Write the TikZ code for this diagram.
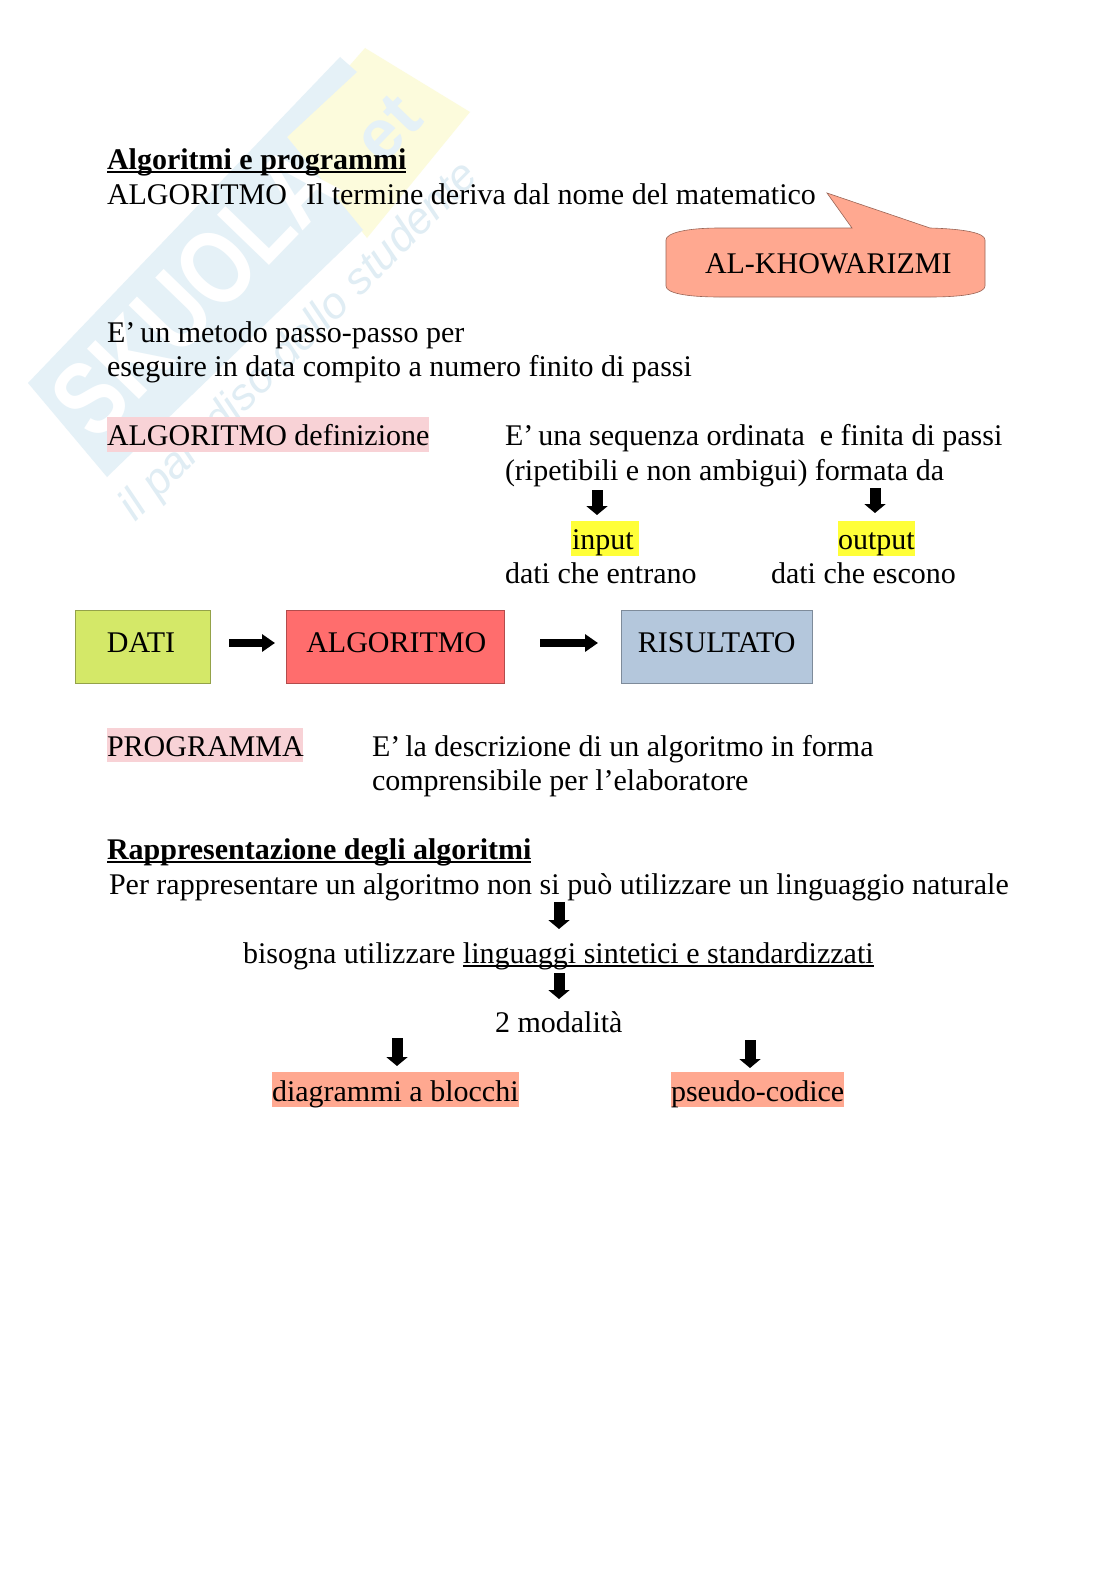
\documentclass[tikz,border=0pt]{standalone}
\usepackage{fontspec}
\setmainfont{Liberation Serif}
\newfontfamily\wmfont{Liberation Sans}
\usetikzlibrary{arrows.meta}
\definecolor{wmblue}{HTML}{E5F1F7}
\definecolor{wmyellow}{HTML}{FCFBDC}
\definecolor{wmtext}{HTML}{E0EDF4}
\definecolor{pinkhl}{HTML}{F8D2D6}
\definecolor{yellowhl}{HTML}{FFFF38}
\definecolor{salmon}{HTML}{FFA890}
\definecolor{datifill}{HTML}{D4E868}
\definecolor{algofill}{HTML}{FF6D6D}
\definecolor{risfill}{HTML}{B4C7DC}
\newcommand{\ulin}[2][2]{\sbox0{#2}\rlap{\rule[-4pt]{\wd0}{#1pt}}\usebox0}
\newcommand{\Eap}{E’\kern-2.5pt\ }
\tikzset{
  txt/.style={anchor=base west,inner sep=0pt,outer sep=0pt,font=\fontsize{30}{34.5}\selectfont},
  flowbox/.style={draw=#1!70!black,line width=0.7pt,inner sep=0pt,text depth=10pt,text height=20pt,
    font=\fontsize{30}{34.5}\selectfont},
  blockarrow/.style={line width=8pt,-{Triangle[length=13pt,width=17pt]},black},
  downarrow/.style={line width=11pt,-{Triangle[length=9pt,width=21pt]},black},
}
\begin{document}
\begin{tikzpicture}[x=1pt,y=-1pt]
\useasboundingbox (0,0) rectangle (1116,1579);
\fill[white] (0,0) rectangle (1116,1579);
% watermark
\fill[wmyellow] (365,48) -- (470,112) -- (367,238) -- (287,137) -- cycle;
\fill[wmblue] (28,383) -- (340,57) -- (357,72) -- (287,137) -- (363,230) -- (107,477) -- cycle;
\node[rotate=46,inner sep=0pt,text=white,font=\wmfont\bfseries\fontsize{84}{84}\selectfont] (wmname) at (194,291) {\scalebox{1}[1.25]{SKUOLA}};
\node[rotate=46,inner sep=0pt,text=wmblue,font=\wmfont\bfseries\fontsize{70}{70}\selectfont] (wmnet) at (388,128) {et};
\node[rotate=45,inner sep=0pt,text=wmtext,font=\wmfont\itshape\fontsize{44}{44}\selectfont] (wmslogan) at (300,342) {il paradiso dello studente};
% callout
\draw[fill=salmon,draw=salmon!60!black,line width=0.6pt] (827,193) -- (930,228)
  .. controls (965,229) and (985,233) .. (985,240) -- (985,286)
  .. controls (985,293) and (965,297) .. (930,297) -- (720,297)
  .. controls (686,297) and (666,293) .. (666,286) -- (666,240)
  .. controls (666,233) and (686,228) .. (720,228) -- (852,228) -- cycle;
\node[txt] (kho) at (705,273) {AL-KHOWARIZMI};
% highlights
\fill[pinkhl] (107,417) rectangle (429,452);
\fill[pinkhl] (107,728) rectangle (303,762);
\fill[yellowhl] (571,521) rectangle (639,556);
\fill[yellowhl] (838,521) rectangle (915,556);
\fill[salmon] (272,1072) rectangle (519,1107);
\fill[salmon] (671,1072) rectangle (844,1107);
% text
\node[txt] (title) at (107,169) {\bfseries\ulin[2.2]{Algoritmi e programmi}};
\node[txt] (alg) at (107,204) {ALGORITMO};
\node[txt] (term) at (306,204) {Il termine deriva dal nome del matematico};
\node[txt] (met1) at (107,342) {\Eap un metodo passo-passo per};
\node[txt] (met2) at (107,376) {eseguire in data compito a numero finito di passi};
\node[txt] (def) at (107,445) {ALGORITMO definizione};
\node[txt] (seq1) at (505,445) {\Eap una sequenza ordinata\ \ e finita di passi};
\node[txt] (seq2) at (505,480) {(ripetibili e non ambigui) formata da};
\node[txt] (input) at (572,549) {input};
\node[txt] (output) at (838,549) {output};
\node[txt] (entr) at (505,583.5) {dati che entrano};
\node[txt] (esc) at (771,583.5) {dati che escono};
\node[flowbox=datifill,fill=datifill,minimum width=134.5pt,minimum height=73pt] (dati) at (143,647) {DATI\kern4pt};
\node[flowbox=algofill,fill=algofill,minimum width=218.5pt,minimum height=73pt] (algo) at (395.25,647) {\kern2pt ALGORITMO};
\node[flowbox=risfill,fill=risfill,minimum width=191.5pt,minimum height=73pt] (ris) at (716.75,647) {RISULTATO};
\coordinate (a1s) at (229,643); \coordinate (a1e) at (275,643);
\coordinate (a2s) at (540,643); \coordinate (a2e) at (598,643);
\draw[blockarrow] (a1s) -- (a1e);
\draw[blockarrow] (a2s) -- (a2e);
\node[txt] (prog) at (107,756) {PROGRAMMA};
\node[txt] (descr1) at (372,756) {\Eap la descrizione di un algoritmo in forma};
\node[txt] (descr2) at (372,790.5) {comprensibile per l’elaboratore};
\node[txt] (rapp) at (107,859) {\bfseries\ulin[2.2]{Rappresentazione degli algoritmi}};
\node[txt] (per) at (109,894) {Per rappresentare un algoritmo non si può utilizzare un linguaggio naturale};
\node[txt] (biso) at (243,963) {bisogna utilizzare \ulin[1.6]{linguaggi sintetici e standardizzati}};
\node[txt] (mod) at (495,1032) {2 modalità};
\node[txt] (diag) at (272,1101) {diagrammi a blocchi};
\node[txt] (pseudo) at (671,1101) {pseudo-codice};
% down arrows
\coordinate (d1s) at (597,490); \coordinate (d1e) at (597,515);
\coordinate (d2s) at (875,488); \coordinate (d2e) at (875,513);
\coordinate (d3s) at (559,902); \coordinate (d3e) at (559,929);
\coordinate (d4s) at (559,973); \coordinate (d4e) at (559,999);
\coordinate (d5s) at (397,1038); \coordinate (d5e) at (397,1066);
\coordinate (d6s) at (750,1040); \coordinate (d6e) at (750,1068);
\foreach \a in {1,...,6} \draw[downarrow] (d\a s) -- (d\a e);
\end{tikzpicture}
\end{document}
